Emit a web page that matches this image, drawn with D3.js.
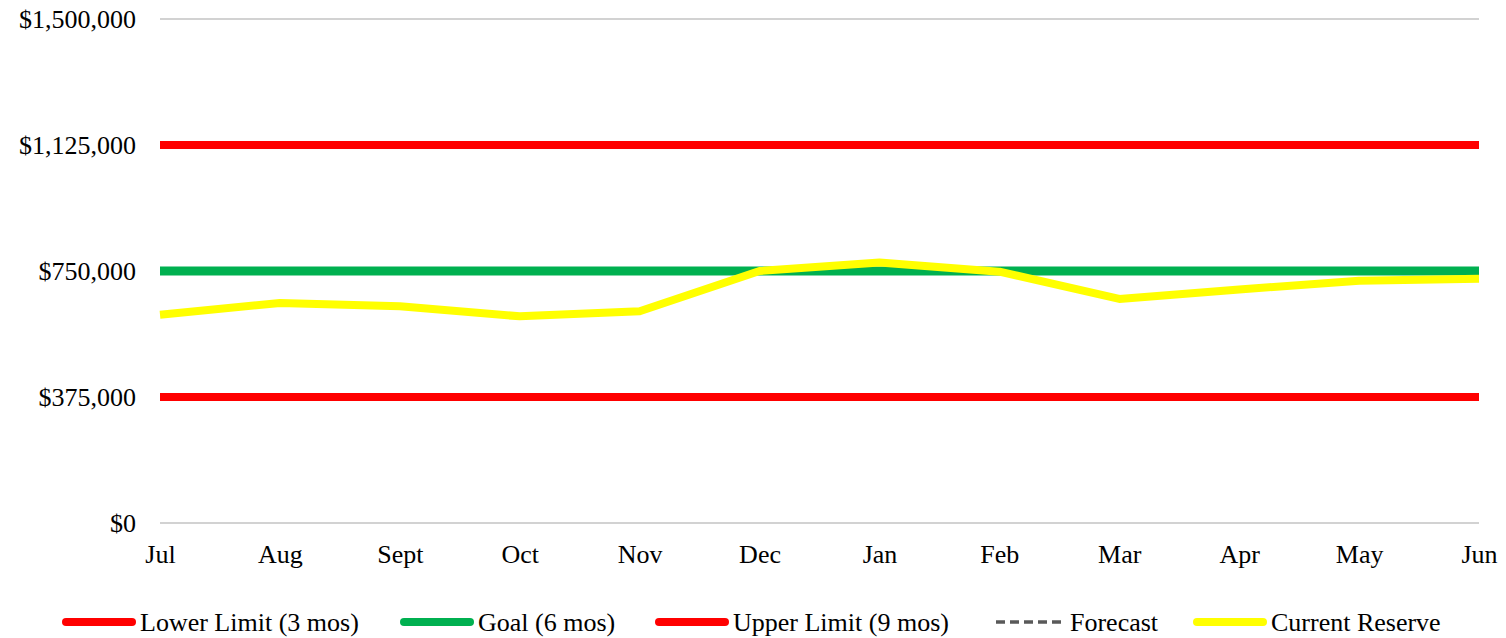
<!DOCTYPE html>
<html>
<head>
<meta charset="utf-8">
<script src="https://cdn.jsdelivr.net/npm/d3@7"></script>
<style>
  html, body { margin: 0; padding: 0; background: #fff; }
  svg { display: block; }
  text { font-family: "Liberation Serif", "Times New Roman", serif; fill: #000; }
</style>
</head>
<body>
<svg id="chart" width="1506" height="638"></svg>
<script>
// Monthly reserve data (fiscal year Jul–Jun)
const months = ["Jul", "Aug", "Sept", "Oct", "Nov", "Dec", "Jan", "Feb", "Mar", "Apr", "May", "Jun"];
const lowerLimit = [375000, 375000, 375000, 375000, 375000, 375000, 375000, 375000, 375000, 375000, 375000, 375000];
const goal = [750000, 750000, 750000, 750000, 750000, 750000, 750000, 750000, 750000, 750000, 750000, 750000];
const upperLimit = [1125000, 1125000, 1125000, 1125000, 1125000, 1125000, 1125000, 1125000, 1125000, 1125000, 1125000, 1125000];
const forecast = [];
const currentReserve = [620000, 655000, 645000, 615000, 630000, 750000, 775000, 748000, 667000, 695000, 721000, 727000];
const yTicks = [0, 375000, 750000, 1125000, 1500000];

const series = [
  { name: "Lower Limit (3 mos)", values: lowerLimit, color: "#ff0000", width: 8, dash: null },
  { name: "Goal (6 mos)", values: goal, color: "#00b050", width: 9, dash: null },
  { name: "Upper Limit (9 mos)", values: upperLimit, color: "#ff0000", width: 8, dash: null },
  { name: "Forecast", values: forecast, color: "#595959", width: 3.5, dash: "9,5" },
  { name: "Current Reserve", values: currentReserve, color: "#ffff00", width: 8, dash: null }
];

const svg = d3.select("#chart");
const plot = { left: 160, right: 1479, top: 19, bottom: 523 };

const x = d3.scalePoint().domain(months).range([plot.left, plot.right]);
const y = d3.scaleLinear().domain([0, 1500000]).range([plot.bottom, plot.top]);

const fmt = v => "$" + d3.format(",")(v);

// Horizontal gridlines
svg.append("g")
  .selectAll("line")
  .data(yTicks)
  .join("line")
  .attr("x1", plot.left).attr("x2", plot.right)
  .attr("y1", d => y(d)).attr("y2", d => y(d))
  .attr("stroke", "#a6a6a6").attr("stroke-width", 1.2);

// Y axis labels
const yAxis = svg.append("g")
  .attr("transform", `translate(${plot.left},0)`)
  .call(d3.axisLeft(y).tickValues(yTicks).tickFormat(fmt).tickSize(0).tickPadding(24));
yAxis.select(".domain").remove();
yAxis.selectAll("text")
  .style("font-family", '"Liberation Serif", "Times New Roman", serif')
  .style("font-size", "26px").attr("fill", "#000");

// X axis labels
const xAxis = svg.append("g")
  .attr("transform", `translate(0,${plot.bottom})`)
  .call(d3.axisBottom(x).tickSize(0).tickPadding(22));
xAxis.select(".domain").remove();
xAxis.selectAll("text")
  .style("font-family", '"Liberation Serif", "Times New Roman", serif')
  .style("font-size", "26px").attr("fill", "#000");

// Series lines
const line = d3.line()
  .x((d, i) => x(months[i]))
  .y(d => y(d));

svg.append("g")
  .selectAll("path")
  .data(series.filter(s => s.values.length > 0))
  .join("path")
  .attr("d", s => line(s.values))
  .attr("fill", "none")
  .attr("stroke", s => s.color)
  .attr("stroke-width", s => s.width)
  .attr("stroke-dasharray", s => s.dash)
  .attr("stroke-linejoin", "round");

// Legend
const legendX = [62, 400, 655, 992, 1193];
const legendY = 622;
const legend = svg.append("g")
  .selectAll("g")
  .data(series)
  .join("g")
  .attr("transform", (s, i) => `translate(${legendX[i]},${legendY})`);

legend.append("line")
  .attr("x1", 4).attr("x2", 70)
  .attr("y1", 0).attr("y2", 0)
  .attr("stroke", s => s.color)
  .attr("stroke-width", s => s.dash ? 3.5 : 8)
  .attr("stroke-dasharray", s => s.dash ? "9,5" : null)
  .attr("stroke-linecap", s => s.dash ? "butt" : "round");

legend.append("text")
  .attr("x", 78)
  .attr("y", 9)
  .style("font-size", "26px")
  .text(s => s.name);
</script>
</body>
</html>
